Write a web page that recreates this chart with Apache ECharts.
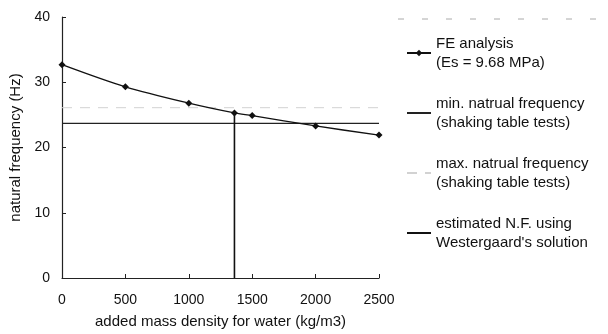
<!DOCTYPE html>
<html>
<head>
<meta charset="utf-8">
<script src="https://cdn.jsdelivr.net/npm/echarts@6/dist/echarts.min.js"></script>
<style>
html, body { margin: 0; padding: 0; background: #fff; }
#chart { width: 608px; height: 334px; }
</style>
</head>
<body>
<div id="chart"></div>
<script>
// FE analysis points (added mass density, natural frequency)
const feDensity = [0, 500, 1000, 1360, 1500, 2000, 2500];
const feFreq = [32.7, 29.3, 26.8, 25.3, 24.9, 23.3, 21.9];
// shaking table test bounds
const minFreq = 23.7;
const maxFreq = 26.1;
// Westergaard estimate
const westDensity = 1360;
const westFreq = 25.3;
const xRange = [0, 2500];

const FONT = 'Liberation Sans, Arial, sans-serif';
const NONE = 'rgba(0,0,0,0)';
const chart = echarts.init(document.getElementById('chart'), null, { renderer: 'canvas' });

chart.setOption({
  animation: false,
  backgroundColor: '#fff',
  textStyle: { fontFamily: FONT, color: '#111' },
  grid: { left: 62, right: 229, top: 17, bottom: 54 },
  legend: {
    orient: 'vertical',
    left: 401,
    top: 29,
    itemWidth: 24,
    itemHeight: 8,
    itemGap: 22,
    textStyle: { fontFamily: FONT, fontSize: 15, color: '#111', lineHeight: 19 },
    data: [
      'FE analysis\n(Es = 9.68 MPa)',
      'min. natrual frequency\n(shaking table tests)',
      'max. natrual frequency\n(shaking table tests)',
      'estimated N.F. using\nWestergaard\'s solution',
    ],
  },
  xAxis: {
    type: 'value',
    min: 0,
    max: 2500,
    interval: 500,
    name: 'added mass density for water (kg/m3)',
    nameLocation: 'middle',
    nameGap: 36,
    nameTextStyle: { fontSize: 15, color: '#111' },
    axisLine: { lineStyle: { color: '#222', width: 1.2 } },
    axisTick: { inside: true, length: 4, lineStyle: { color: '#222' } },
    axisLabel: { fontSize: 14, color: '#111', margin: 15, formatter: v => String(v) },
    splitLine: { show: false },
  },
  yAxis: {
    type: 'value',
    min: 0,
    max: 40,
    interval: 10,
    name: 'natural frequency (Hz)',
    nameLocation: 'middle',
    nameGap: 34,
    nameTextStyle: { fontSize: 15, color: '#111' },
    axisLine: { show: true, lineStyle: { color: '#222', width: 1.2 } },
    axisTick: { show: true, inside: true, length: 4, lineStyle: { color: '#222' } },
    axisLabel: { fontSize: 14, color: '#111', margin: 12 },
    splitLine: { show: false },
  },
  series: [
    {
      name: 'FE analysis\n(Es = 9.68 MPa)',
      type: 'line',
      smooth: 0.3,
      data: feDensity.map((d, i) => [d, feFreq[i]]),
      symbol: 'diamond',
      symbolSize: 7,
      lineStyle: { color: '#111', width: 1.3 },
      itemStyle: { color: '#111' },
      z: 5,
    },
    {
      name: 'min. natrual frequency\n(shaking table tests)',
      type: 'line',
      data: xRange.map(x => [x, minFreq]),
      symbol: 'none',
      lineStyle: { color: '#222', width: 1.3 },
      itemStyle: { color: NONE },
    },
    {
      name: 'max. natrual frequency\n(shaking table tests)',
      type: 'line',
      data: xRange.map(x => [x, maxFreq]),
      symbol: 'none',
      lineStyle: { color: '#d2d2d2', width: 1, type: [10, 8] },
      itemStyle: { color: NONE },
    },
    {
      name: 'estimated N.F. using\nWestergaard\'s solution',
      type: 'line',
      data: [[westDensity, 0], [westDensity, westFreq]],
      symbol: 'none',
      lineStyle: { color: '#111', width: 1.6 },
      itemStyle: { color: NONE },
    },
  ],
  graphic: [
    { type: 'line', shape: { x1: 398, y1: 19, x2: 600, y2: 19 },
      style: { stroke: '#aaa', lineWidth: 1, lineDash: [6, 18] }, silent: true },
  ],
});
</script>
</body>
</html>
